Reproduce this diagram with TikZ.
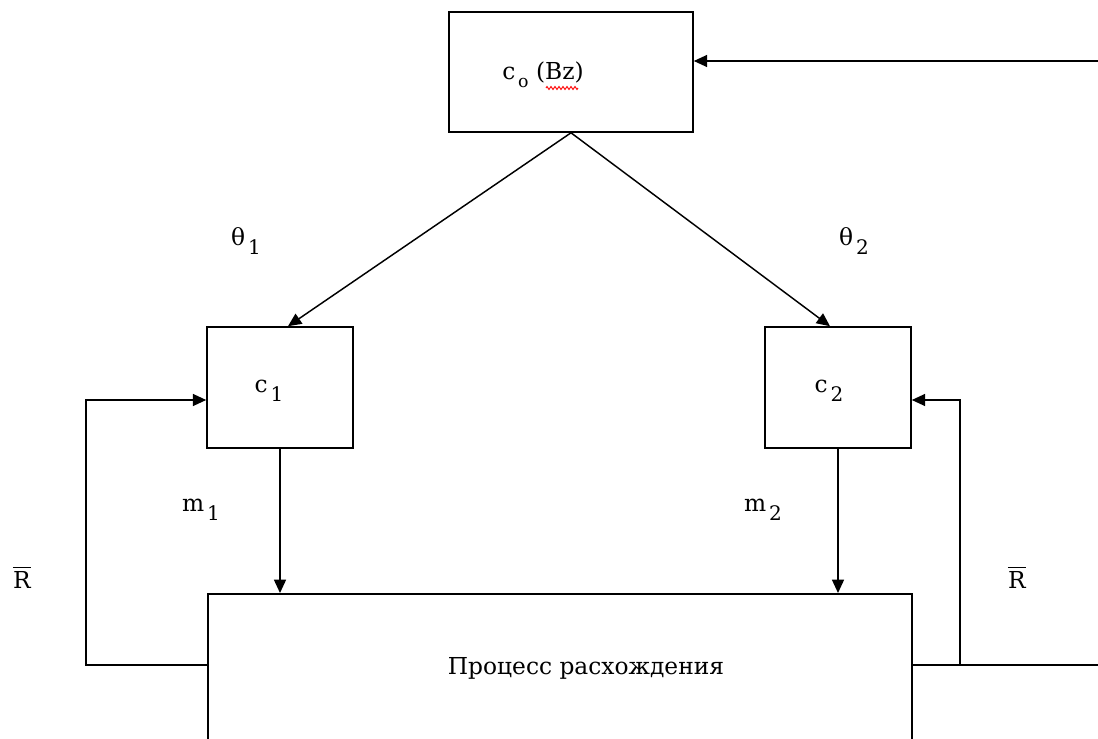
\documentclass[tikz,border=0pt]{standalone}
\usepackage{fontspec}
\setmainfont{DejaVu Serif}
\usetikzlibrary{arrows.meta,decorations.pathmorphing}
\newlength{\px}\setlength{\px}{0.75pt}
\newcommand{\lowsub}[1]{\hspace{0.12em}\raisebox{-0.7ex}{\fontsize{15}{17}\selectfont #1}}
\begin{document}
\begin{tikzpicture}[x=0.75pt,y=-0.75pt,
  font=\fontsize{17.5}{20}\selectfont,
  box/.style={draw, line width=1.2pt, inner sep=0pt},
  lbl/.style={inner sep=0pt},
  bar/.style={line width=1.1pt},
  conn/.style={line width=1.1pt, -{Triangle[length=10pt,width=9pt]}},
  wire/.style={line width=1.1pt}]
\useasboundingbox (0,0) rectangle (1098,738);
\clip (0,0) rectangle (1098,738);
% boxes
\node[box, minimum width=244\px, minimum height=120\px] (top) at (571,72) {};
\node[box, minimum width=146\px, minimum height=121\px] (c1) at (280,387.5) {};
\node[box, minimum width=146\px, minimum height=121\px] (c2) at (838,387.5) {};
\node[box, minimum width=704\px, minimum height=220\px, anchor=north west] (proc) at (207,593) {};
% texts
\node[lbl] (t0) at (543,75) {c\lowsub{\fontsize{13}{15}\selectfont o} (Bz)};
\draw[red, line width=0.7pt, decorate, decoration={zigzag, segment length=4\px, amplitude=1.5\px}] (546,88) -- (578,88);
\node[lbl] (t1) at (269,391) {c\lowsub{1}};
\node[lbl] (t2) at (829,391) {c\lowsub{2}};
\node[lbl] (tp) at (586,668) {Процесс расхождения};
\node[lbl] (th1) at (246,241) {θ\lowsub{1}};
\node[lbl] (th2) at (854,241) {θ\lowsub{2}};
\node[lbl] (m1) at (201,510) {m\lowsub{1}};
\node[lbl] (m2) at (763,510) {m\lowsub{2}};
\node[lbl] (r1) at (22,580) {R};
\node[lbl] (r2) at (1017,580) {R};
\draw[bar] ([yshift=4\px]r1.north west) -- ([yshift=4\px]r1.north east);
\draw[bar] ([yshift=4\px]r2.north west) -- ([yshift=4\px]r2.north east);
% coordinates
\coordinate (rin) at (1098,61);
\coordinate (rout) at (1098,665);
\coordinate (tap) at (960,665);
\coordinate (pl) at ([yshift=-72\px]proc.north west);
\coordinate (pr) at ([yshift=-72\px]proc.north east);
\coordinate (c1in) at ([yshift=-12.5\px]c1.west);
\coordinate (c2in) at ([yshift=-12.5\px]c2.east);
% connectors
\draw[conn] (rin) -- (rin -| top.east);
\draw[conn] (top.south) -- ([xshift=8\px]c1.north);
\draw[conn] (top.south) -- ([xshift=-8\px]c2.north);
\draw[conn] (c1.south) -- (c1.south |- proc.north);
\draw[conn] (c2.south) -- (c2.south |- proc.north);
\draw[conn] (pl) -- ++(-121,0) |- (c1in);
\draw[wire] (pr) -- (rout);
\draw[conn] (tap) |- (c2in);
\end{tikzpicture}
\end{document}
